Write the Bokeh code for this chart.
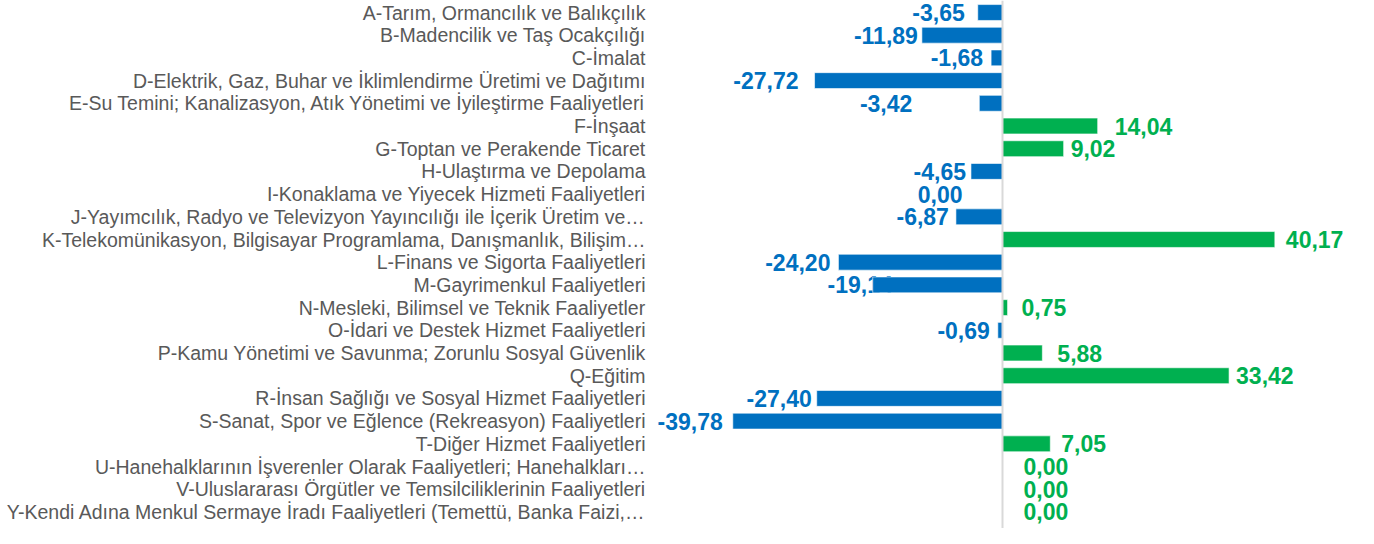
from bokeh.plotting import figure
from bokeh.models import Range1d, Span, ColumnDataSource, FixedTicker
from bokeh.embed import file_html
from bokeh.resources import INLINE
from bokeh.core.properties import value

categories = [
    "A-Tarım, Ormancılık ve Balıkçılık",
    "B-Madencilik ve Taş Ocakçılığı",
    "C-İmalat",
    "D-Elektrik, Gaz, Buhar ve İklimlendirme Üretimi ve Dağıtımı",
    "E-Su Temini; Kanalizasyon, Atık Yönetimi ve İyileştirme Faaliyetleri",
    "F-İnşaat",
    "G-Toptan ve Perakende Ticaret",
    "H-Ulaştırma ve Depolama",
    "I-Konaklama ve Yiyecek Hizmeti Faaliyetleri",
    "J-Yayımcılık, Radyo ve Televizyon Yayıncılığı ile İçerik Üretim ve…",
    "K-Telekomünikasyon, Bilgisayar Programlama, Danışmanlık, Bilişim…",
    "L-Finans ve Sigorta Faaliyetleri",
    "M-Gayrimenkul Faaliyetleri",
    "N-Mesleki, Bilimsel ve Teknik Faaliyetler",
    "O-İdari ve Destek Hizmet Faaliyetleri",
    "P-Kamu Yönetimi ve Savunma; Zorunlu Sosyal Güvenlik",
    "Q-Eğitim",
    "R-İnsan Sağlığı ve Sosyal Hizmet Faaliyetleri",
    "S-Sanat, Spor ve Eğlence (Rekreasyon) Faaliyetleri",
    "T-Diğer Hizmet Faaliyetleri",
    "U-Hanehalklarının İşverenler Olarak Faaliyetleri; Hanehalkları…",
    "V-Uluslararası Örgütler ve Temsilciliklerinin Faaliyetleri",
    "Y-Kendi Adına Menkul Sermaye İradı Faaliyetleri (Temettü, Banka Faizi,…",
]
values = [-3.65, -11.89, -1.68, -27.72, -3.42, 14.04, 9.02, -4.65, 0.00, -6.87,
          40.17, -24.20, -19.14, 0.75, -0.69, 5.88, 33.42, -27.40, -39.78, 7.05,
          0.00, 0.00, 0.00]

BLUE = "#0070C0"
GREEN = "#00B050"
# colour group of each bar (row I is shown in the negative colour)
negative_group = [v < 0 for v in values]
negative_group[8] = True

# pixel gaps between bar end and its label (layout)
label_gaps = [13, 4, 8, 16, 67, 17, 7, 5, 40, 7,
              11, 8, -20, 14, 8, 15, 7, 5, 10, 11,
              21, 21, 21]

idx = list(range(len(categories)))
labels = [f"{v:.2f}".replace(".", ",") for v in values]
colors = [BLUE if n else GREEN for n in negative_group]
aligns = ["right" if n else "left" for n in negative_group]
offsets = [-g if n else g for g, n in zip(label_gaps, negative_group)]

src = ColumnDataSource(dict(y=idx, v=values, lab=labels, col=colors,
                            align=aligns, xo=offsets))

p = figure(width=1358, height=528, output_backend="svg", toolbar_location=None,
           x_range=Range1d(-51.77, 52.51), y_range=Range1d(22.731, -0.529),
           min_border_left=651, min_border_right=0, min_border_top=0,
           min_border_bottom=0)
p.outline_line_color = None
p.xgrid.visible = False
p.ygrid.visible = False
p.xaxis.visible = False
p.background_fill_color = "white"
p.border_fill_color = "white"

yax = p.yaxis[0]
yax.ticker = FixedTicker(ticks=idx)
yax.major_label_overrides = {i: c for i, c in zip(idx, categories)}
yax.axis_line_color = None
yax.major_tick_line_color = None
yax.minor_tick_line_color = None
yax.major_tick_out = 0
yax.major_tick_in = 0
yax.minor_tick_out = 0
yax.major_label_standoff = 6
yax.major_label_text_font = "Liberation Sans"
yax.major_label_text_font_size = "19.5px"
yax.major_label_text_color = "#595959"

p.add_layout(Span(location=0, dimension="height", line_color="#D9D9D9",
                  line_width=2))

# labels first so that bars may cover them (as in the original)
p.text(x="v", y="y", text="lab", source=src, text_color="col",
       text_align="align", x_offset="xo", y_offset=0,
       text_baseline="middle", text_font=value("Liberation Sans"),
       text_font_style="bold", text_font_size="23px")

p.hbar(y="y", left=0, right="v", height=0.70, source=src,
       fill_color="col", line_color="white", line_width=0.6)

open("out.html", "w").write(file_html(p, INLINE))
